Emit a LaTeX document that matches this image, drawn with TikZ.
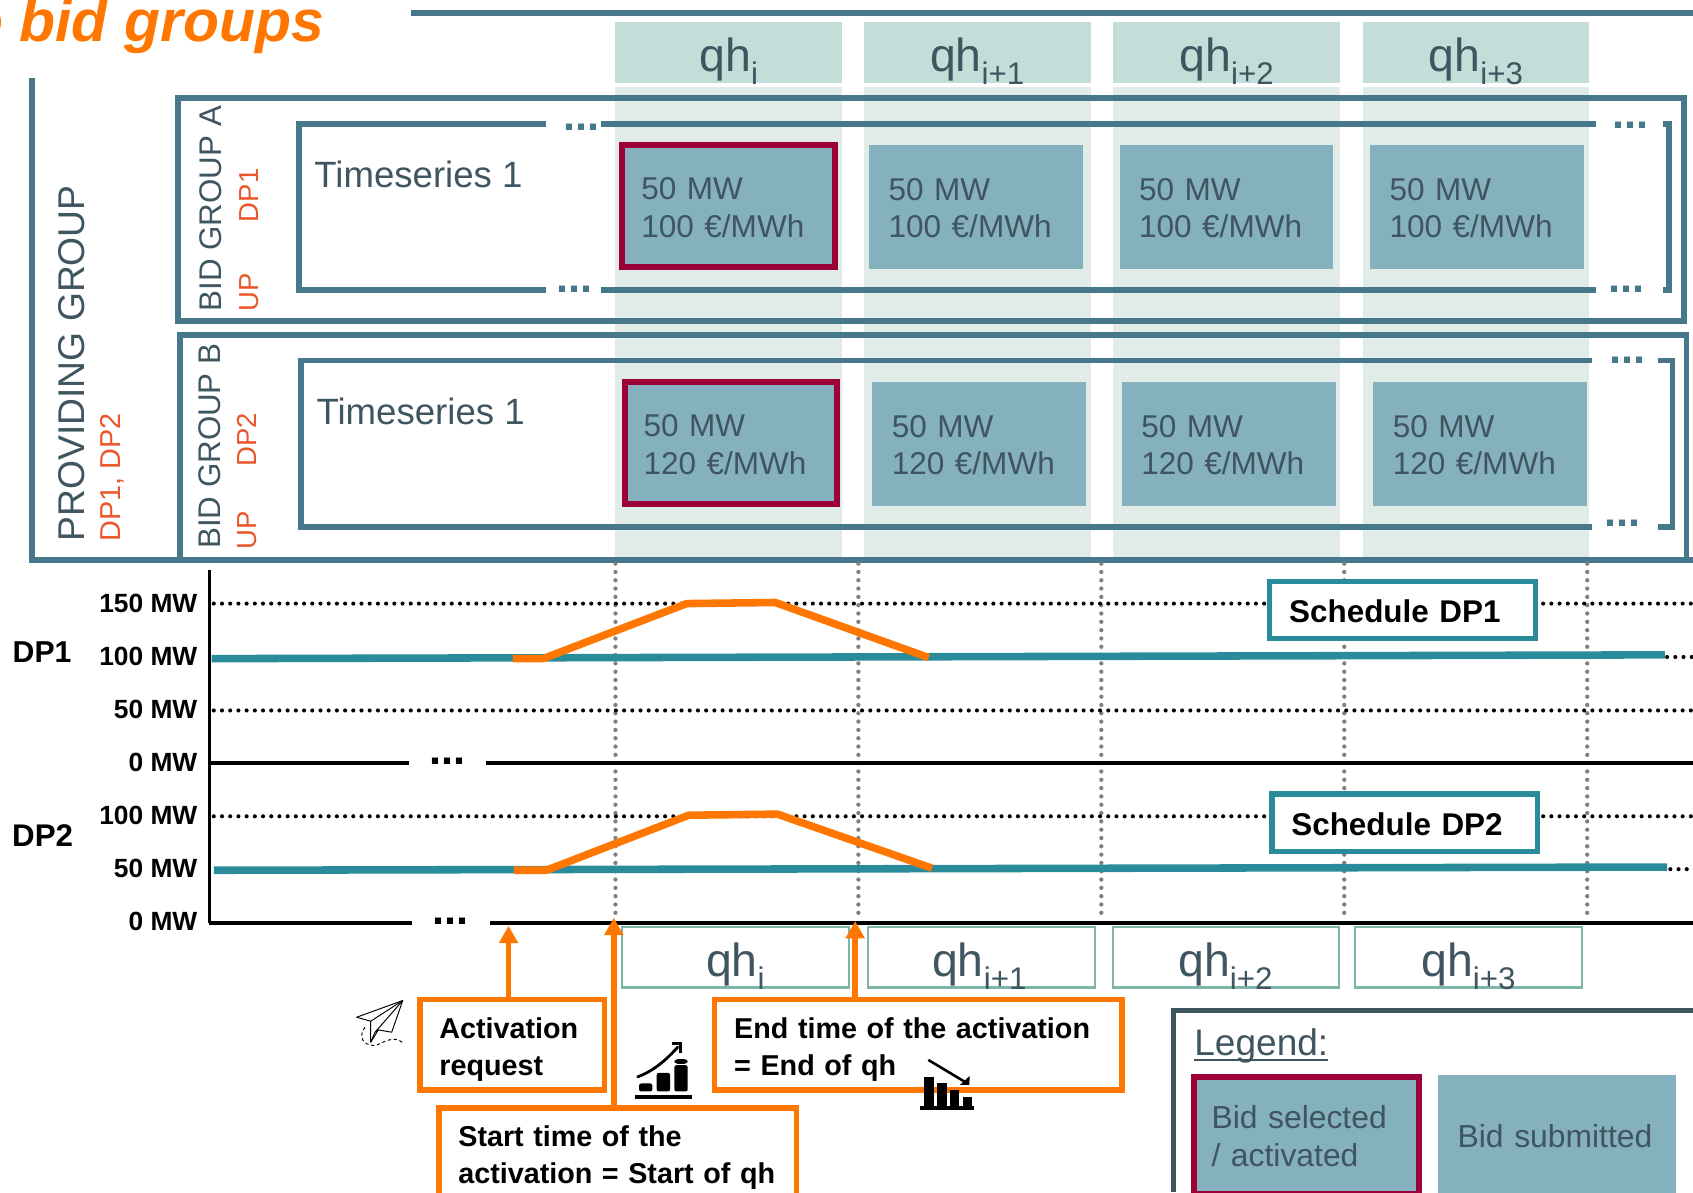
\documentclass[tikz,border=0pt]{standalone}
\usepackage{fontspec}
\setmainfont{Liberation Sans}
\usetikzlibrary{arrows.meta}
\definecolor{frame}{HTML}{47778A}
\definecolor{ink}{HTML}{3F5560}
\definecolor{headfill}{HTML}{C4DDD8}
\definecolor{colfill}{HTML}{E1ECE9}
\definecolor{bidfill}{HTML}{85B0BE}
\definecolor{selred}{HTML}{9B0038}
\definecolor{dpred}{HTML}{E9572B}
\definecolor{orng}{HTML}{FF7700}
\definecolor{tealline}{HTML}{2A8C9A}
\definecolor{qhline}{HTML}{7DB5A8}
\newcommand{\fs}[2]{\fontsize{#1}{#2}\selectfont}
\newcommand{\qhtxt}[1]{\fs{43}{44}qh\raisebox{-12pt}{\fs{29}{30}#1}}
\tikzset{
  frameline/.style={draw=frame,line width=5.4pt,line join=miter},
  colband/.style={fill=colfill,draw=none},
  headbox/.style={fill=headfill,draw=none,minimum width=210pt,minimum height=57pt,inner sep=0pt,text=ink},
  qhbox/.style={draw=qhline,line width=2pt,fill=white,minimum width=210pt,minimum height=56pt,inner sep=0pt,text=ink},
  qhlabel/.style={anchor=base,text=ink,inner sep=0pt},
  bidbox/.style={fill=bidfill,draw=none,minimum width=198pt,minimum height=115pt,inner xsep=18pt,inner ysep=0pt,text width=162pt,align=left,text=ink,font=\fs{29.2}{35},execute at begin node={\rule{0pt}{23pt}}},
  selbox/.style={bidbox,draw=selred,line width=5.5pt,minimum width=197pt,minimum height=113pt,inner xsep=17.5pt},
  sidetext/.style={rotate=90,anchor=base west,inner sep=0pt,text=ink},
  sidered/.style={rotate=90,anchor=base west,inner sep=0pt,text=dpred},
  tsnode/.style={anchor=west,inner sep=0pt,text=ink,font=\fs{33.9}{36}},
  tdots/.style={anchor=base,inner sep=0pt,text=frame,font=\bfseries\fs{40}{40}},
  kdots/.style={anchor=base,inner sep=0pt,text=black,font=\bfseries\fs{40}{40}},
  ylab/.style={anchor=east,inner sep=0pt,text=black,font=\bfseries\fs{24.4}{26}},
  dplab/.style={anchor=center,inner sep=0pt,text=black,font=\bfseries\fs{28}{30}},
  axisline/.style={draw=black,line width=3.5pt},
  kdotted/.style={draw=black,line width=3.8pt,line cap=round,dash pattern=on 0pt off 7.6pt},
  gdotted/.style={draw=gray,line width=4pt,line cap=round,dash pattern=on 0pt off 7.7pt},
  schedline/.style={draw=tealline,line width=7pt},
  actline/.style={draw=orng,line width=7pt,line join=miter},
  schedbox/.style={draw=tealline,line width=5pt,fill=white,minimum width=246pt,minimum height=53pt,inner xsep=18pt,inner ysep=0pt,text width=210pt,align=left,text=black,font=\bfseries\fs{29.1}{32},execute at begin node={\rule{0pt}{24pt}}},
  obox/.style={draw=orng,line width=5pt,fill=white,inner xsep=18pt,inner ysep=0pt,align=left,text=black,font=\bfseries\fs{26.6}{34},execute at begin node={\rule{0pt}{28pt}}},
  oarrow/.style={draw=orng,line width=5pt,-{Triangle[length=16pt,width=17pt]}},
  iconthin/.style={draw=black,line width=0.9pt,line join=round},
}
\begin{document}
\begin{tikzpicture}[x=1pt,y=-1pt]
\useasboundingbox (0,0) rectangle (1568,1104);
\clip (0,0) rectangle (1568,1104);
\fill[white] (0,0) rectangle (1568,1104);

% title
\node[anchor=base east,inner sep=0pt,text=orng,font=\bfseries\itshape\fs{54.5}{56}] (title) at (300,38) {o bid groups};
\coordinate (topa) at (381,12);
\coordinate (topb) at (1568,12);
\draw[frameline] (topa) -- (topb);

% column bands
\foreach \xa in {570,800,1031,1262}{
  \fill[colband] (\xa,81) rectangle ++(210,437);
}
% header boxes
\node[headbox] (h1) at (675,48.5) {};
\node[headbox] (h2) at (905,48.5) {};
\node[headbox] (h3) at (1136,48.5) {};
\node[headbox] (h4) at (1367,48.5) {};
\node[qhlabel] (h1t) at (675,66) {\qhtxt{i}};
\node[qhlabel] (h2t) at (905,66) {\qhtxt{i+1}};
\node[qhlabel] (h3t) at (1136,66) {\qhtxt{i+2}};
\node[qhlabel] (h4t) at (1367,66) {\qhtxt{i+3}};

% providing group
\draw[frameline] (30,72) -- (30,518.5) -- (1568,518.5);
\node[sidetext,font=\fs{34.5}{36}] (pg) at (78,501.5) {PROVIDING GROUP};
\node[sidered,font=\fs{26.7}{28}] (pgd) at (112,501.5) {DP1, DP2};

% bid group A
\draw[frameline] (165,91) rectangle (1560,297);
\node[sidetext,font=\fs{29}{31}] (ga) at (205.5,288.5) {BID GROUP A};
\node[sidered,font=\fs{25.5}{26}] (gau) at (239.5,289) {UP};
\node[sidered,font=\fs{25.5}{26}] (gad) at (239.5,206) {DP1};
\draw[frameline] (506,114.5) -- (277,114.5) -- (277,268.7) -- (506,268.7);
\draw[frameline] (557,114.5) -- (1478,114.5);
\draw[frameline] (557,268.7) -- (1478,268.7);
\draw[frameline] (1540,114.5) -- (1546,114.5) -- (1546,268.7) -- (1540,268.7);
\node[tdots] (da1) at (538.5,120.5) {...};
\node[tdots] (da2) at (532.5,271) {...};
\node[tdots] (da3) at (1510.5,119) {...};
\node[tdots] (da4) at (1506.5,271) {...};
\node[tsnode] (tsa) at (291,161.5) {Timeseries 1};
\node[selbox] (a1) at (675,191) {50 MW\\100 €/MWh};
\node[bidbox] (a2) at (904,191.5) {50 MW\\100 €/MWh};
\node[bidbox] (a3) at (1136,191.5) {50 MW\\100 €/MWh};
\node[bidbox] (a4) at (1368,191.5) {50 MW\\100 €/MWh};

% bid group B
\draw[frameline] (167,518.5) -- (167,310.5) -- (1562,310.5) -- (1562,518.5);
\node[sidetext,font=\fs{29}{31}] (gb) at (204,508.5) {BID GROUP B};
\node[sidered,font=\fs{25.5}{26}] (gbu) at (238,509) {UP};
\node[sidered,font=\fs{25.5}{26}] (gbd) at (238,432.5) {DP2};
\draw[frameline] (1474.5,333.8) -- (279,333.8) -- (279,488) -- (1474.5,488);
\draw[frameline] (1536,333.8) -- (1549,333.8) -- (1549,488) -- (1536,488);
\node[tdots] (db1) at (1507.5,337) {...};
\node[tdots] (db2) at (1502.5,488) {...};
\node[tsnode] (tsb) at (293,381) {Timeseries 1};
\node[selbox] (b1) at (677,410.5) {50 MW\\120 €/MWh};
\node[bidbox] (b2) at (907,411) {50 MW\\120 €/MWh};
\node[bidbox] (b3) at (1138,411) {50 MW\\120 €/MWh};
\node[bidbox] (b4) at (1371,411) {50 MW\\120 €/MWh};

% chart: grid
\begin{scope}[yshift=-1pt]
\foreach \xa in {570,795,1020,1245,1470}{
  \draw[gdotted] (\xa,521) -- (\xa,851);
}
\draw[kdotted] (198,558) -- (1568,558);
\draw[kdotted] (198,657) -- (1568,657);
\draw[kdotted] (198,755) -- (1568,755);
\draw[kdotted] (1544,607.5) -- (1568,607.5);
\draw[kdotted] (1547,804) -- (1568,804);
\draw[axisline] (194,527) -- (194,854);
\draw[axisline] (194,706) -- (379,706);
\draw[axisline] (450,706) -- (1568,706);
\draw[axisline] (194,854) -- (382,854);
\draw[axisline] (454,854) -- (1568,854);
\node[kdots] (dk1) at (414,707) {...};
\node[kdots] (dk2) at (417.5,855) {...};

% y labels
\node[ylab] (y1) at (183,558) {150 MW};
\node[ylab] (y2) at (183,607) {100 MW};
\node[ylab] (y3) at (183,656) {50 MW};
\node[ylab] (y4) at (183,705) {0 MW};
\node[ylab] (y5) at (183,754) {100 MW};
\node[ylab] (y6) at (183,803) {50 MW};
\node[ylab] (y7) at (183,852) {0 MW};
\node[dplab] (dp1) at (39,603) {DP1};
\node[dplab,font=\bfseries\fs{29}{31}] (dp2) at (39.5,773) {DP2};

% schedule and activation lines
\draw[schedline] (196,609) -- (1542,605.5);
\draw[schedline] (198,805) -- (1544,802);
\draw[actline] (475,609) -- (503,609) -- (636,558) -- (718,557) -- (860,608);
\draw[actline] (476,805) -- (506,805) -- (638,754) -- (720,753) -- (863,803);
\node[schedbox] (s1) at (1299,564) {Schedule DP1};
\node[schedbox] (s2) at (1301,761) {Schedule DP2};
\end{scope}

% bottom qh boxes
\node[qhbox] (q1) at (681,886.5) {};
\node[qhbox] (q2) at (909,886.5) {};
\node[qhbox,minimum width=209pt] (q3) at (1135.5,886.5) {};
\node[qhbox] (q4) at (1360,886.5) {};
\node[qhlabel] (q1t) at (681,904) {\qhtxt{i}};
\node[qhlabel] (q2t) at (907,904) {\qhtxt{i+1}};
\node[qhlabel] (q3t) at (1135,904) {\qhtxt{i+2}};
\node[qhlabel] (q4t) at (1360,904) {\qhtxt{i+3}};

% annotation boxes
\node[obox,minimum width=171pt,minimum height=84pt,text width=135pt] (act) at (474.5,967.5) {Activation\\request};
\node[obox,minimum width=377pt,minimum height=84pt,text width=341pt] (end) at (850.5,967.5) {End time of the activation\\= End of qh};
\node[obox,minimum width=331pt,minimum height=84pt,text width=295pt] (start) at (572,1068) {Start time of the\\activation = Start of qh};
\coordinate (acttip) at (471,857.5);
\coordinate (starttip) at (568.5,850);
\coordinate (endtip) at (792,853);
\draw[oarrow] (act.north -| acttip) -- (acttip);
\draw[oarrow] (start.north -| starttip) -- (starttip);
\draw[oarrow] (end.north -| endtip) -- (endtip);

% legend
\draw[draw=ink,line width=5pt] (1568,936) -- (1087,936) -- (1087,1104);
\node[anchor=west,inner sep=0pt,text=ink,font=\fs{34.3}{36}] (leg) at (1106,969) {Legend:};
\draw[draw=ink,line width=2pt] (1106,982) -- (1230,982);
\node[selbox,minimum width=208.5pt,minimum height=108pt,inner xsep=16.5pt,text width=175.5pt,font=\fs{29.5}{35}] (ls) at (1209.8,1051.5) {Bid selected\\/ activated};
\node[bidbox,minimum width=220pt,minimum height=110pt,text width=184pt,font=\fs{29.5}{35}] (lb) at (1442,1051) {Bid submitted};

% paper plane icon
\begin{scope}[shift={(324.2,917.4)},x=0.3087pt,y=-0.3087pt]
  \draw[iconthin] (158,30) -- (20,80) -- (62,92) -- (62,155) -- (85,118) -- (125,125) -- cycle;
  \draw[iconthin] (158,30) -- (62,92);
  \draw[iconthin] (158,30) -- (75,125) -- (85,118);
  \draw[iconthin] (62,155) -- (75,125);
  \draw[iconthin,dash pattern=on 3pt off 2.5pt] (45,110) .. controls (25,135) and (35,165) .. (75,165) .. controls (95,160) and (130,130) .. (160,158);
\end{scope}

% rising chart icon
\begin{scope}[shift={(578.9,955)},x=0.3087pt,y=-0.3087pt]
  \fill[black] (30,191) rectangle (200,203);
  \fill[black,rounded corners=2pt] (42,157) rectangle (82,181);
  \fill[black,rounded corners=2pt] (95,125) rectangle (135,181);
  \fill[black,rounded corners=2pt] (148,102) rectangle (188,181);
  \fill[black,rounded corners=3pt] (148,84) rectangle (188,98);
  \draw[black,line width=2.6pt,line cap=round] (38,137) .. controls (85,120) and (125,85) .. (158,48);
  \draw[black,line width=2.6pt,line join=miter] (140,38) -- (167,38) -- (167,66);
\end{scope}

% falling chart icon
\begin{scope}[shift={(842.8,973)},x=0.3087pt,y=-0.3087pt]
  \fill[black] (30,167) rectangle (192,177);
  \fill[black] (42,78) rectangle (72,170);
  \fill[black] (80,98) rectangle (110,170);
  \fill[black] (120,118) rectangle (148,170);
  \fill[black] (158,138) rectangle (186,170);
  \draw[black,line width=2.4pt] (55,28) -- (165,94);
  \fill[black] (179,76) -- (178,103) -- (150,103) -- cycle;
\end{scope}
\end{tikzpicture}
\end{document}
